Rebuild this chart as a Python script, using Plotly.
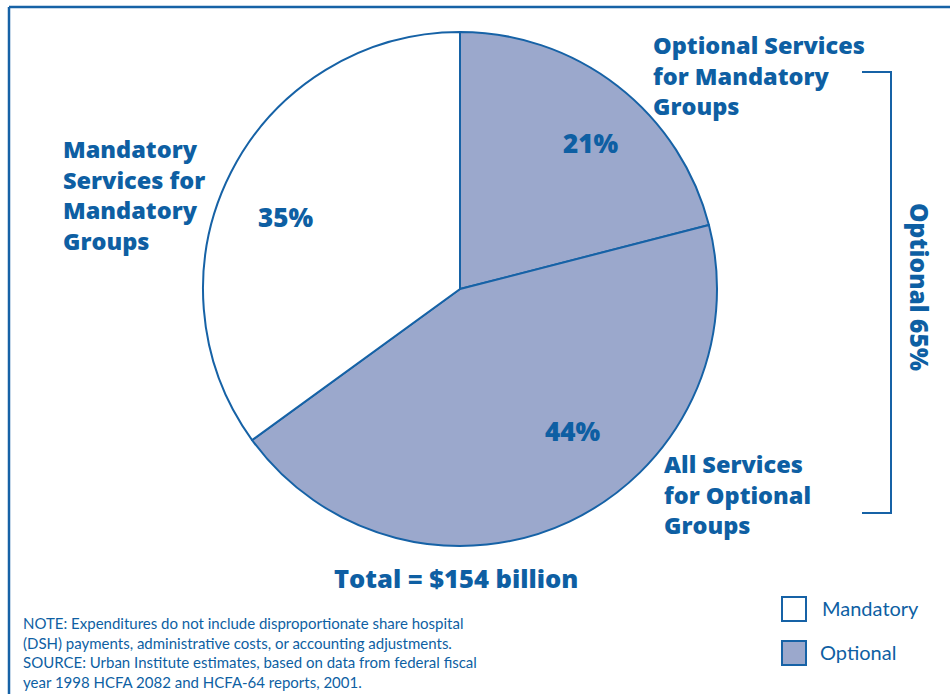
import plotly.graph_objects as go

W, H = 950, 694

# Share of spending by service/group category
slice_names = ["Optional Services for Mandatory Groups",
               "All Services for Optional Groups",
               "Mandatory Services for Mandatory Groups"]
slice_values = [21, 44, 35]
slice_kind = ["Optional", "Optional", "Mandatory"]
optional_total = 65
total_label = "Total = $154 billion"
legend_items = ["Mandatory", "Optional"]
note_lines = [
    "NOTE: Expenditures do not include disproportionate share hospital",
    "(DSH) payments, administrative costs, or accounting adjustments.",
    "SOURCE: Urban Institute estimates, based on data from federal fiscal",
    "year 1998 HCFA 2082 and HCFA-64 reports, 2001.",
]

BLUE = "#1662A6"
TEXT = "#0E5FA3"
FILL = "#9BA8CC"
kind_color = {"Mandatory": "#FFFFFF", "Optional": FILL}
BOLD = "Open Sans"
REG = "Lato"


def px(x):
    return x / W


def py(y):
    return 1 - y / H


fig = go.Figure()

# pie: centre (460, 289), radius 257 px
cx, cy, r = 460, 289, 257
fig.add_trace(go.Pie(
    labels=slice_names,
    values=slice_values,
    sort=False,
    direction="clockwise",
    rotation=0,
    marker=dict(colors=[kind_color[k] for k in slice_kind],
                line=dict(color=BLUE, width=2)),
    textinfo="none",
    hoverinfo="label+percent",
    showlegend=False,
    domain=dict(x=[px(cx - r), px(cx + r)], y=[py(cy + r), py(cy - r)]),
))

ann = []


def text_at(txt, x, y, size, family=BOLD, weight=800, xanchor="center", angle=0):
    ann.append(dict(x=px(x), y=py(y), xref="paper", yref="paper",
                    text=txt, showarrow=False, xanchor=xanchor, yanchor="middle",
                    textangle=angle, borderpad=0, align="left",
                    font=dict(family=family, size=size, color=TEXT, weight=weight)))


# percentage labels inside the slices
pct_pos = [(590, 143), (572, 431), (285, 217)]
for v, (x, y) in zip(slice_values, pct_pos):
    text_at(f"{v}%", x, y, 26)

# category labels (multi-line blocks, centred vertically)
cat_labels = [
    (["Optional Services", "for Mandatory", "Groups"], 652, 75),
    (["All Services", "for Optional", "Groups"], 663, 494),
    (["Mandatory", "Services for", "Mandatory", "Groups"], 62, 195),
]
for lines, x, yc in cat_labels:
    text_at("<br>".join(lines), x, yc, 23.5, xanchor="left")

text_at(total_label, 456, 578, 25.5)
text_at(f"Optional {optional_total}%", 920, 287, 24.5, angle=90)

text_at("<br>".join(note_lines), 22, 652, 15, family=REG, weight=400,
        xanchor="left")

shapes = []
# frame
shapes.append(dict(type="line", xref="paper", yref="paper",
                   x0=px(9), y0=py(7), x1=px(960), y1=py(7),
                   line=dict(color=BLUE, width=2.5)))
shapes.append(dict(type="line", xref="paper", yref="paper",
                   x0=px(9), y0=py(7), x1=px(9), y1=py(700),
                   line=dict(color=BLUE, width=2.5)))
# bracket for the optional share
shapes.append(dict(type="path", xref="paper", yref="paper",
                   path=f"M {px(862)},{py(72)} L {px(891)},{py(72)} "
                        f"L {px(891)},{py(513)} L {px(862)},{py(513)}",
                   line=dict(color=BLUE, width=2)))

# legend
leg_pos = [(794, 609, 821), (794, 653, 819)]
for name, (x, y, tx) in zip(legend_items, leg_pos):
    shapes.append(dict(type="rect", xref="paper", yref="paper",
                       x0=px(x - 12), x1=px(x + 12), y0=py(y + 12), y1=py(y - 12),
                       fillcolor=kind_color[name], line=dict(color=BLUE, width=2)))
    text_at(name, tx, y - 1, 20, family=REG, weight=400, xanchor="left")

fig.update_layout(
    width=W, height=H,
    margin=dict(l=0, r=0, t=0, b=0),
    paper_bgcolor="white",
    plot_bgcolor="white",
    annotations=ann,
    shapes=shapes,
)

fig.write_html("out.html")
